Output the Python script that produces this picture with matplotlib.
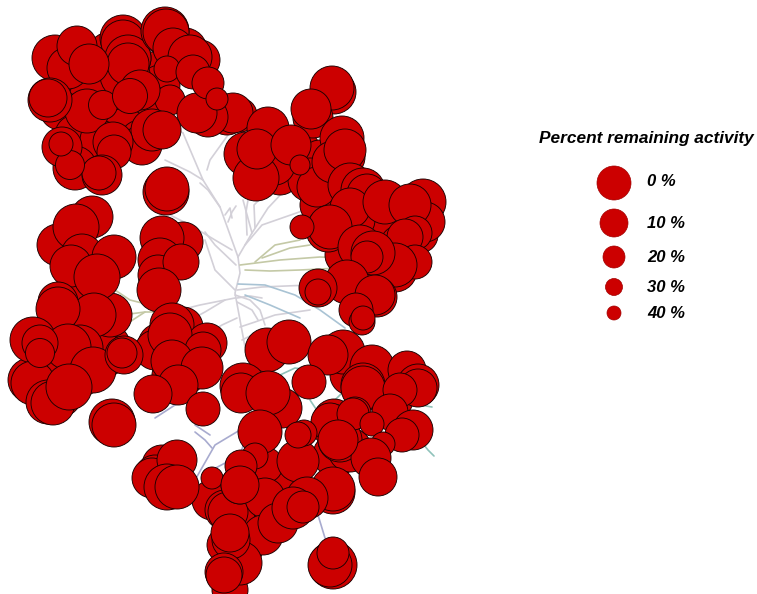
# Kinome tree with remaining-activity circles, coordinates in image pixels
import matplotlib
matplotlib.use("Agg")
import matplotlib.pyplot as plt
from matplotlib.patches import Circle

RED = "#cc0000"

# tree branches (x list, y list, colour)
branch_gray = [
    ([238, 240, 235, 245], [257, 273, 293, 347]),
    ([238, 220, 203, 183], [257, 207, 180, 133]),
    ([203, 190, 165], [180, 172, 160]),
    ([220, 208, 200], [207, 190, 183]),
    ([238, 252, 243], [257, 233, 200]),
    ([252, 268, 285], [233, 208, 190]),
    ([245, 262, 305], [245, 225, 210]),
    ([232, 215, 190, 170], [250, 240, 225, 215]),
    ([236, 215, 205], [265, 245, 232]),
    ([235, 215, 205], [290, 270, 240]),
    ([235, 200, 180], [298, 305, 310]),
    ([237, 262, 310], [290, 287, 285]),
    ([235, 250, 260, 265], [295, 300, 310, 325]),
    ([240, 255, 275, 310], [327, 322, 315, 310]),
    ([242, 262, 295], [340, 330, 325]),
    ([225, 205, 190], [300, 312, 320]),
    ([237, 222, 210], [318, 325, 332]),
    ([183, 168, 158], [133, 125, 118]),
    ([207, 210, 228], [170, 160, 135]),
    ([178, 205, 215], [365, 345, 335]),
    ([228, 232, 236], [222, 212, 206]),
    ([225, 230, 232], [215, 208, 218]),
    ([247, 246, 248], [235, 212, 200]),
    ([255, 254, 262], [228, 205, 197]),
    ([237, 250, 262], [298, 296, 298]),
    ([237, 252, 258], [302, 310, 320]),
]
branch_olive = [
    ([240, 280, 320, 340], [265, 260, 257, 258]),
    ([255, 275, 300], [262, 245, 240]),
    ([262, 290, 310], [258, 248, 245]),
    ([245, 270, 300, 340], [270, 271, 270, 268]),
    ([115, 130, 150], [290, 300, 305]),
    ([125, 145], [325, 312]),
    ([122, 145, 175], [315, 312, 312]),
]
branch_blue = [
    ([238, 265, 295, 320, 345], [284, 285, 295, 310, 328]),
    ([245, 270, 300], [295, 305, 318]),
]
branch_teal = [
    ([280, 295, 310], [375, 368, 370]),
    ([310, 320, 345], [400, 415, 390]),
    ([420, 428, 434], [440, 450, 456]),
    ([420, 432], [405, 407]),
]
branch_violet = [
    ([155, 175, 195], [418, 405, 395]),
    ([195, 215, 240, 245], [480, 445, 430, 425]),
    ([195, 205, 212], [432, 440, 448]),
    ([195, 210], [425, 435]),
    ([212, 240, 245], [470, 455, 440]),
    ([318, 325], [515, 538]),
    ([275, 280], [400, 385]),
]

# circles hidden under the blobs, drawn first
x_under = [72, 100, 130, 150, 185, 160, 110, 90, 125, 150, 60, 170, 90, 125, 140, 75, 100, 200, 128, 125,
           240, 85, 110, 105, 95, 60, 80, 30, 60,
           160, 170, 190, 155, 185,
           280, 300, 320, 310, 340, 365, 385, 400, 395, 380, 345, 420, 335, 320, 355,
           350, 385, 395, 335, 350, 340, 333, 240, 260, 250, 225, 285, 240, 235, 265, 243, 230,
           90, 80, 110]
y_under = [80, 85, 85, 75, 50, 85, 55, 100, 110, 105, 110, 100, 125, 130, 140, 135, 140, 60, 58, 75,
           115, 335, 345, 355, 345, 375, 375, 380, 395,
           345, 375, 355, 350, 375,
           175, 150, 160, 180, 225, 235, 225, 245, 270, 265, 255, 235, 195, 205, 220,
           375, 395, 400, 455, 450, 440, 492, 510, 520, 500, 500, 480, 540, 520, 465, 548, 590,
           300, 300, 315]
r_under = [22, 23, 23, 23, 22, 20, 23, 22, 22, 20, 20, 15, 20, 22, 20, 20, 20, 20, 23, 25,
           17, 22, 20, 22, 22, 22, 22, 22, 22,
           22, 18, 20, 20, 20,
           20, 20, 20, 22, 22, 22, 22, 20, 22, 22, 20, 18, 18, 20, 20,
           20, 20, 18, 22, 22, 22, 22, 22, 22, 20, 20, 20, 22, 20, 18, 20, 18,
           22, 20, 22]

# upper left cluster
x_upper = [123, 123, 128, 128, 55, 68, 77, 89, 165, 166, 173, 190, 167, 227, 233, 208, 197,
           193, 208, 217, 140, 87, 50, 48, 103, 130]
y_upper = [38, 42, 58, 64, 58, 68, 46, 64, 31, 32, 48, 57, 69, 115, 113, 117, 113,
           72, 83, 99, 90, 111, 100, 98, 105, 96]
r_upper = [23, 22, 23, 21, 23, 21, 20, 20, 24, 23, 20, 22, 13, 20, 20, 20, 20,
           17, 16, 11, 20, 22, 22, 19, 14.5, 17.5]

x_mid = [142, 152, 162, 113, 114, 75, 62, 102, 99, 70, 61, 166, 167]
y_mid = [145, 130, 130, 142, 152, 168, 147, 175, 173, 165, 144, 192, 189]
r_mid = [20, 21, 19, 20, 17, 22, 20, 20, 17, 14.5, 12, 23, 22]

# left column
x_left = [92, 58, 76, 82, 71, 114, 97, 183, 162, 160, 158, 181, 159, 58]
y_left = [217, 245, 227, 255, 266, 257, 277, 242, 238, 260, 275, 262, 290, 302]
r_left = [21, 21, 23, 21, 21, 22, 23, 20, 22, 22, 20, 18, 22, 20]

x_low = [94, 58, 33, 80, 68, 93, 33, 48, 53, 69, 40, 40, 124, 122, 112, 114]
y_low = [315, 309, 340, 348, 347, 370, 383, 402, 403, 387, 343, 353, 355, 353, 422, 425]
r_low = [22, 22, 23, 23, 23, 23, 22, 22, 22, 23, 18, 14.5, 19, 15, 23, 22]

x_center = [183, 172, 207, 170, 203, 172, 202, 178, 153, 203]
y_center = [327, 325, 343, 335, 350, 361, 368, 385, 394, 409]
r_center = [20, 22, 20, 22, 18, 21, 21, 20, 19, 17]

# upper right cluster
x_right = [334, 332, 313, 311, 342, 344, 268, 246, 275, 317, 333, 345, 256, 257, 291, 300,
           350, 363, 367, 350, 385, 423, 425, 410, 415, 405]
y_right = [92, 88, 118, 109, 138, 157, 128, 154, 165, 187, 162, 150, 178, 149, 145, 165,
           185, 190, 194, 208, 202, 202, 222, 205, 233, 237]
r_right = [22, 22, 20, 20, 22, 21, 21, 22, 20, 20, 21, 21, 23, 20, 20, 10,
           22, 22, 20, 20, 22, 23, 20, 21, 17, 18]

x_right2 = [328, 330, 360, 415, 395, 373, 367, 302, 347, 377, 375, 318, 318, 356, 362, 363]
y_right2 = [230, 227, 247, 262, 265, 253, 257, 227, 282, 297, 295, 288, 292, 310, 322, 318]
r_right2 = [22, 22, 22, 17, 22, 22, 16, 12, 22, 20, 20, 19, 13, 17, 13, 12]

# centre bottom and lower right
x_br = [282, 267, 289, 243, 241, 268, 343, 328, 372, 407, 418, 418, 363, 363, 400, 309]
y_br = [408, 350, 342, 386, 393, 393, 352, 355, 367, 370, 385, 388, 385, 388, 390, 382]
r_br = [20, 22, 22, 23, 20, 22, 22, 20, 22, 19, 21, 19, 22, 22, 17, 17]

x_br2 = [334, 332, 330, 355, 353, 390, 413, 402, 372, 383, 371, 378, 338, 298, 304, 298, 260]
y_br2 = [420, 425, 422, 413, 414, 412, 430, 435, 424, 444, 458, 477, 440, 461, 433, 435, 432]
r_br2 = [21, 21, 19, 16, 16, 18, 20, 17, 12, 12, 20, 19, 20, 21, 13, 13, 22]

x_bot = [218, 212, 225, 228, 240, 265, 263, 278, 333, 307, 293, 303, 255, 241, 212, 240]
y_bot = [495, 500, 510, 512, 485, 498, 535, 523, 489, 498, 508, 507, 456, 466, 478, 485]
r_bot = [18, 20, 20, 20, 19, 20, 20, 20, 22, 21, 21, 16, 13, 16, 11, 19]

x_bl = [162, 155, 152, 177, 167, 177]
y_bl = [465, 475, 478, 460, 487, 487]
r_bl = [20, 20, 20, 20, 23, 22]

x_tail = [240, 225, 231, 230, 224, 224, 333, 330, 333]
y_tail = [563, 545, 540, 533, 572, 575, 565, 565, 553]
r_tail = [22, 18, 19, 19, 19, 18, 24, 22, 16]

# legend
legend_y = [183, 223, 257, 287, 313]
legend_r = [17, 14, 11, 8.5, 7]
legend_labels = ["0 %", "10 %", "20 %", "30 %", "40 %"]

fig = plt.figure(figsize=(7.57, 5.94), dpi=100)
ax = fig.add_axes([0, 0, 1, 1])
ax.set_xlim(0, 757)
ax.set_ylim(594, 0)
ax.axis("off")

for branches, col in [(branch_gray, "#d3d0d8"), (branch_olive, "#c4c9a6"), (branch_blue, "#a9c3d4"),
                      (branch_teal, "#8fc2ba"), (branch_violet, "#a8abcf")]:
    for bx, by in branches:
        ax.plot(bx, by, color=col, lw=1.2, solid_capstyle="round", zorder=1)

z = 2
for xs, ys, rs in [(x_under, y_under, r_under), (x_upper, y_upper, r_upper), (x_mid, y_mid, r_mid),
                   (x_left, y_left, r_left), (x_low, y_low, r_low), (x_center, y_center, r_center),
                   (x_right, y_right, r_right), (x_right2, y_right2, r_right2), (x_br, y_br, r_br),
                   (x_br2, y_br2, r_br2), (x_bot, y_bot, r_bot), (x_bl, y_bl, r_bl), (x_tail, y_tail, r_tail)]:
    for cx, cy, r in zip(xs, ys, rs):
        ax.add_patch(Circle((cx, cy), r, facecolor=RED, edgecolor="#1a0000", lw=0.65, zorder=z))
        z += 1

ax.text(646, 138, "Percent remaining activity", family="Liberation Sans", weight="bold", style="italic",
        fontsize=12.4, ha="center", va="center", color="black", zorder=z)
for ly, lr, lab in zip(legend_y, legend_r, legend_labels):
    ax.add_patch(Circle((614, ly), lr, facecolor=RED, edgecolor="#a00000", lw=0.5, zorder=z))
    ax.text(647, ly - 1 if ly < 200 else ly, lab, family="Liberation Sans", weight="bold", style="italic",
            fontsize=12, ha="left", va="center", color="black", zorder=z)

fig.savefig("out.png", dpi=100)
